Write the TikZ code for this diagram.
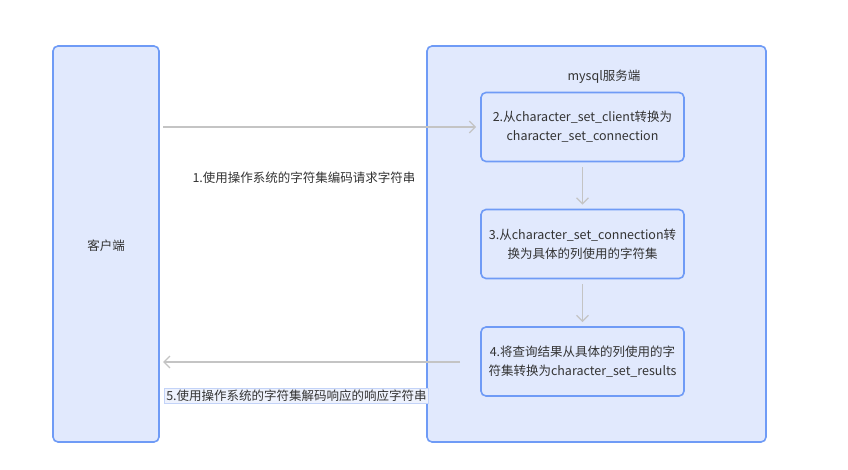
\documentclass[tikz,border=0pt]{standalone}
\usepackage{fontspec}
\setmainfont{Noto Sans CJK SC}
\usetikzlibrary{arrows.meta}
\definecolor{boxfill}{HTML}{E1E9FD}
\definecolor{boxline}{HTML}{6F9BF6}
\definecolor{arrowc}{HTML}{C4C4C4}
\definecolor{txt}{HTML}{333333}
\definecolor{hlfill}{HTML}{EEF2FD}
\definecolor{hlline}{HTML}{C3D3F8}
\begin{document}
\begin{tikzpicture}[x=1pt,y=-1pt,
  font=\fontsize{12.5}{19}\selectfont, text=txt,
  container/.style={draw=boxline, fill=boxfill, line width=1.6pt, rounded corners=5pt},
  stepbox/.style={draw=boxline, fill=boxfill, line width=1.6pt, rounded corners=5pt,
    minimum width=203pt, minimum height=69pt, align=center, inner sep=0pt},
  flow/.style={draw=arrowc, line width=1.3pt, -{Straight Barb[length=6pt,width=12pt,line width=1.3pt]}}]
\useasboundingbox (0,0) rectangle (848,470);
\fill[white] (0,0) rectangle (848,470);
\draw[container] (53,46) rectangle (159,442);
\node (client) at (106,246) {客户端};
\draw[container] (427,46) rectangle (766,442);
\node (server) at (604,77) {mysql服务端};
\node[stepbox] (s2) at (582.5,127) {2.从character\_set\_client转换为\\character\_set\_connection};
\node[stepbox] (s3) at (582.5,244) {3.从character\_set\_connection转\\换为具体的列使用的字符集};
\node[stepbox] (s4) at (582.5,361.5) {4.将查询结果从具体的列使用的字\\符集转换为character\_set\_results};
\coordinate (c1) at (163,127);
\coordinate (c5) at (163,362);
\draw[flow] (c1) -- ([xshift=-4pt]s2.west);
\draw[flow] ([yshift=-5pt]s2.south) -- ([yshift=4pt]s3.north);
\draw[flow] ([yshift=-5pt]s3.south) -- ([yshift=4pt]s4.north);
\draw[flow] ([xshift=-20pt]s4.west |- c5) -- (c5);
\node (l1) at (304,178) {1.使用操作系统的字符集编码请求字符串};
\node[draw=hlline, fill=hlfill, line width=1pt, inner xsep=1.5pt, inner ysep=1.5pt] (l5) at (296.5,396) {5.使用操作系统的字符集解码响应的响应字符串};
\end{tikzpicture}
\end{document}
